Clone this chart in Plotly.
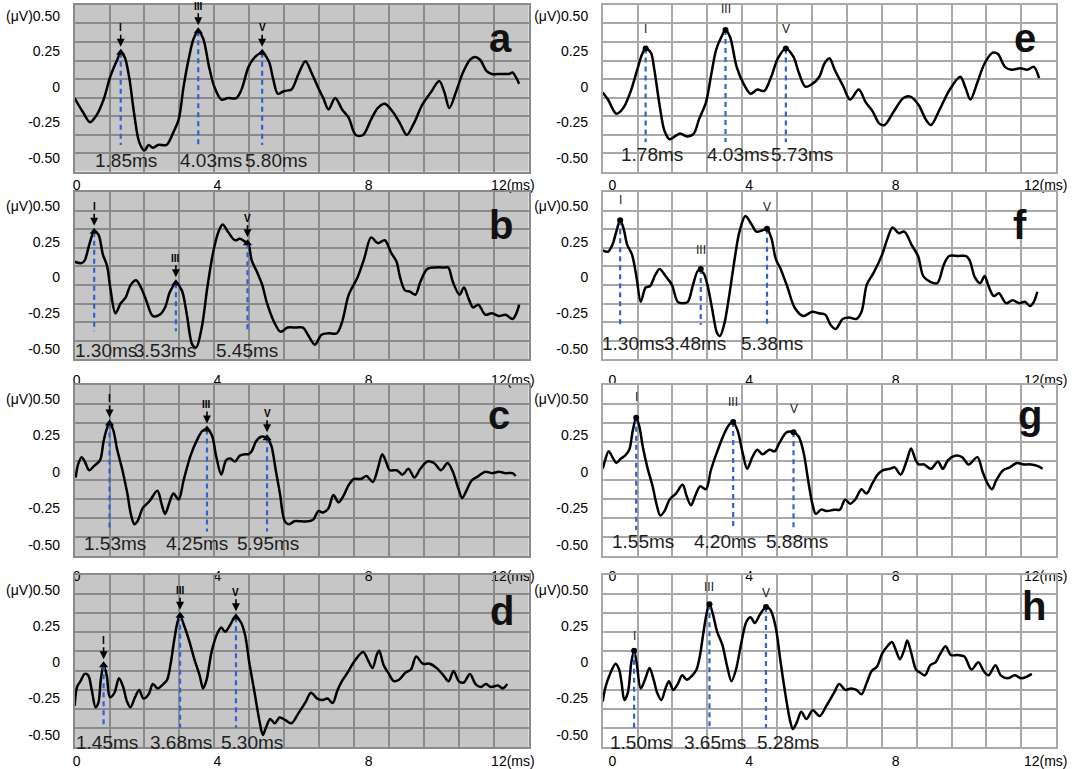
import plotly.graph_objects as go

# ---- waveform data (ms, uV) ----
# panel a
a_x = [0, 0.24, 0.44, 0.63, 0.83, 1.02, 1.22, 1.32, 1.43, 1.56, 1.71, 1.85, 2.0, 2.12, 2.24, 2.39, 2.63, 2.83, 2.98, 3.12,
       3.27, 3.41, 3.54, 3.68, 3.85, 4.0, 4.20, 4.39, 4.63, 4.78, 4.98, 5.17, 5.37, 5.56, 5.69, 5.82, 6.0, 6.21, 6.41, 6.61,
       6.78, 6.98, 7.12, 7.27, 7.46, 7.66, 7.85, 8.05, 8.26, 8.49, 8.68, 8.88, 9.12, 9.32, 9.51, 9.71, 9.95, 10.20, 10.44, 10.59,
       10.73, 10.93, 11.12, 11.32, 11.46, 11.61, 11.80, 11.95, 12.20, 12.44, 12.54, 12.65, 12.73]
a_y = [-0.08, -0.18, -0.25, -0.20, -0.09, 0.07, 0.19, 0.24, 0.21, 0.07, -0.20, -0.39, -0.45, -0.41, -0.43, -0.41, -0.41, -0.32, -0.23, 0.00,
       0.20, 0.34, 0.39, 0.34, 0.14, 0.0, -0.09, -0.08, -0.08, -0.02, 0.14, 0.21, 0.24, 0.18, 0.05, -0.05, -0.03, -0.02, 0.09, 0.18,
       0.10, -0.01, -0.08, -0.16, -0.08, -0.16, -0.22, -0.34, -0.34, -0.23, -0.15, -0.12, -0.18, -0.26, -0.34, -0.26, -0.13, -0.04, 0.04, -0.04,
       -0.15, -0.03, 0.10, 0.19, 0.21, 0.19, 0.11, 0.09, 0.09, 0.09, 0.10, 0.06, 0.02]
a_peak_x = [1.32, 3.54, 5.37]
a_peak_y = [0.24, 0.39, 0.24]
a_lat = ["1.85ms", "4.03ms", "5.80ms"]
a_lat_x = [1.46, 3.90, 5.76]

# panel e
e_x = [0, 0.15, 0.39, 0.59, 0.79, 0.99, 1.13, 1.23, 1.38, 1.48, 1.63, 1.77, 1.92, 2.07, 2.22, 2.41, 2.61, 2.76, 2.96, 3.10,
       3.25, 3.40, 3.52, 3.65, 3.84, 4.04, 4.24, 4.43, 4.63, 4.83, 5.02, 5.25, 5.47, 5.62, 5.81, 6.01, 6.21, 6.35, 6.50, 6.65,
       6.90, 7.09, 7.34, 7.54, 7.73, 7.93, 8.08, 8.33, 8.62, 8.82, 9.06, 9.26, 9.41, 9.66, 9.95, 10.25, 10.39, 10.54, 10.74, 10.94,
       11.18, 11.33, 11.53, 11.72, 11.97, 12.17, 12.36, 12.51]
e_y = [-0.04, -0.09, -0.19, -0.15, -0.04, 0.12, 0.23, 0.27, 0.24, 0.12, -0.13, -0.31, -0.37, -0.35, -0.33, -0.35, -0.33, -0.23, -0.11, 0.07,
       0.26, 0.35, 0.40, 0.35, 0.14, 0.02, -0.05, -0.02, -0.03, 0.07, 0.20, 0.27, 0.21, 0.10, 0.0, 0.02, 0.07, 0.16, 0.20, 0.12,
       0.0, -0.09, -0.02, -0.11, -0.17, -0.26, -0.27, -0.18, -0.08, -0.07, -0.13, -0.23, -0.27, -0.16, -0.02, 0.07, 0.0, -0.09, 0.03, 0.16,
       0.24, 0.23, 0.14, 0.12, 0.13, 0.12, 0.14, 0.06]
e_peak_x = [1.23, 3.52, 5.25]
e_peak_y = [0.27, 0.40, 0.27]
e_lab_y = [0.41, 0.55, 0.41]
e_lat = ["1.78ms", "4.03ms", "5.73ms"]
e_lat_x = [1.40, 3.89, 5.71]

# panel b
b_x = [0, 0.20, 0.29, 0.42, 0.56, 0.68, 0.81, 0.93, 1.02, 1.17, 1.32, 1.46, 1.61, 1.76, 1.90, 2.05, 2.24, 2.44, 2.59, 2.73,
       2.90, 3.07, 3.22, 3.37, 3.48, 3.64, 3.80, 3.97, 4.12, 4.24, 4.39, 4.59, 4.73, 4.88, 4.98, 5.07, 5.22, 5.37, 5.51, 5.71,
       5.90, 6.10, 6.34, 6.54, 6.68, 6.88, 7.07, 7.27, 7.51, 7.66, 7.85, 8.10, 8.29, 8.49, 8.68, 8.88, 9.07, 9.22, 9.32, 9.46,
       9.61, 9.76, 9.90, 10.10, 10.34, 10.59, 10.70, 10.83, 11.02, 11.15, 11.27, 11.41, 11.56, 11.76, 11.95, 12.15, 12.34, 12.54, 12.65, 12.73]
b_y = [0.11, 0.10, 0.12, 0.23, 0.32, 0.30, 0.16, 0.08, -0.07, -0.25, -0.18, -0.14, -0.05, -0.02, -0.07, -0.16, -0.27, -0.26, -0.21, -0.10,
       -0.04, -0.09, -0.27, -0.47, -0.49, -0.35, -0.07, 0.18, 0.32, 0.37, 0.32, 0.26, 0.27, 0.25, 0.23, 0.12, 0.04, -0.05, -0.18, -0.31,
       -0.38, -0.35, -0.35, -0.35, -0.40, -0.47, -0.40, -0.39, -0.39, -0.31, -0.12, 0.0, 0.13, 0.28, 0.24, 0.26, 0.17, 0.11, 0.0, -0.09,
       -0.10, -0.12, -0.03, 0.06, 0.07, 0.07, 0.07, -0.03, -0.12, -0.07, -0.14, -0.21, -0.19, -0.26, -0.25, -0.27, -0.26, -0.29, -0.25, -0.19]
b_peak_x = [0.56, 2.90, 4.95]
b_peak_y = [0.32, -0.04, 0.24]
b_lat = ["1.30ms", "3.53ms", "5.45ms"]
b_lat_x = [0.90, 2.59, 4.93]

# panel f
f_x = [0, 0.15, 0.28, 0.40, 0.50, 0.60, 0.70, 0.84, 0.97, 1.09, 1.23, 1.36, 1.49, 1.63, 1.80, 1.98, 2.15, 2.30, 2.44, 2.59,
       2.74, 2.89, 3.00, 3.13, 3.28, 3.36, 3.48, 3.63, 3.77, 3.92, 4.09, 4.27, 4.41, 4.58, 4.71, 4.84, 4.96, 5.10, 5.30, 5.50,
       5.75, 6.00, 6.19, 6.38, 6.53, 6.68, 6.88, 7.07, 7.27, 7.42, 7.57, 7.76, 8.01, 8.16, 8.31, 8.48, 8.65, 8.85, 9.04, 9.19,
       9.39, 9.59, 9.78, 9.93, 10.18, 10.42, 10.52, 10.67, 10.82, 10.95, 11.06, 11.21, 11.36, 11.56, 11.75, 11.95, 12.10, 12.25, 12.36, 12.46]
f_y = [0.19, 0.18, 0.23, 0.33, 0.40, 0.34, 0.23, 0.16, 0.0, -0.17, -0.07, -0.06, 0.01, 0.06, 0.01, -0.05, -0.17, -0.18, -0.17, -0.05,
       0.05, 0.03, -0.05, -0.21, -0.39, -0.41, -0.33, -0.12, 0.11, 0.32, 0.43, 0.37, 0.32, 0.33, 0.34, 0.27, 0.13, 0.06, -0.07, -0.21,
       -0.27, -0.24, -0.25, -0.26, -0.33, -0.36, -0.29, -0.28, -0.29, -0.24, -0.05, 0.03, 0.16, 0.27, 0.35, 0.31, 0.32, 0.23, 0.15, 0.01,
       -0.03, -0.04, 0.09, 0.15, 0.15, 0.15, 0.12, 0.0, -0.04, 0.01, -0.06, -0.13, -0.11, -0.18, -0.16, -0.18, -0.17, -0.20, -0.17, -0.10]
f_peak_x = [0.50, 2.81, 4.71]
f_peak_y = [0.40, 0.06, 0.34]
f_lab_y = [0.54, 0.19, 0.49]
f_lat = ["1.30ms", "3.48ms", "5.38ms"]
f_lat_x = [0.87, 2.64, 4.86]

# panel c
c_x = [0.03, 0.10, 0.20, 0.29, 0.42, 0.56, 0.73, 0.83, 0.93, 1.00, 1.10, 1.22, 1.37, 1.51, 1.61, 1.71, 1.80, 1.95, 2.15, 2.37,
       2.49, 2.59, 2.73, 2.83, 2.98, 3.12, 3.32, 3.51, 3.66, 3.79, 3.93, 4.05, 4.20, 4.34, 4.46, 4.59, 4.73, 4.88, 4.98, 5.07,
       5.20, 5.34, 5.51, 5.63, 5.76, 5.88, 6.02, 6.15, 6.29, 6.49, 6.68, 6.83, 6.98, 7.12, 7.27, 7.41, 7.56, 7.71, 7.85, 8.00,
       8.20, 8.36, 8.54, 8.68, 8.81, 8.93, 9.02, 9.22, 9.39, 9.56, 9.73, 9.90, 10.10, 10.29, 10.49, 10.68, 10.83, 10.98, 11.10, 11.22,
       11.37, 11.56, 11.76, 11.95, 12.15, 12.34, 12.54, 12.63]
c_y = [-0.04, 0.05, 0.10, 0.07, 0.01, 0.04, 0.08, 0.21, 0.30, 0.33, 0.29, 0.15, 0.01, -0.15, -0.29, -0.36, -0.34, -0.25, -0.20, -0.13,
       -0.22, -0.29, -0.20, -0.15, -0.19, -0.06, 0.11, 0.22, 0.28, 0.29, 0.25, 0.11, -0.02, 0.08, 0.09, 0.07, 0.11, 0.12, 0.12, 0.14,
       0.21, 0.24, 0.23, 0.18, 0.01, -0.15, -0.34, -0.36, -0.34, -0.34, -0.34, -0.33, -0.27, -0.28, -0.25, -0.16, -0.21, -0.16, -0.09, -0.05,
       -0.05, -0.03, -0.07, 0.02, 0.12, 0.06, 0.01, 0.01, -0.02, 0.02, -0.04, 0.02, 0.07, 0.06, 0.01, 0.06, 0.0, -0.11, -0.18, -0.13,
       -0.06, -0.03, 0.0, -0.01, 0.0, -0.01, -0.01, -0.03]
c_peak_x = [1.00, 3.79, 5.51]
c_peak_y = [0.33, 0.29, 0.23]
c_lat = ["1.53ms", "4.25ms", "5.95ms"]
c_lat_x = [1.17, 3.51, 5.53]

# panel g
g_x = [0, 0.07, 0.17, 0.30, 0.39, 0.52, 0.64, 0.76, 0.86, 0.96, 1.05, 1.15, 1.28, 1.43, 1.55, 1.65, 1.77, 1.92, 2.10, 2.29,
       2.41, 2.53, 2.66, 2.79, 2.96, 3.10, 3.30, 3.50, 3.65, 3.74, 3.87, 4.01, 4.14, 4.29, 4.43, 4.58, 4.78, 4.93, 5.07, 5.27,
       5.47, 5.62, 5.76, 5.89, 6.01, 6.11, 6.26, 6.43, 6.63, 6.80, 6.95, 7.09, 7.24, 7.42, 7.56, 7.73, 7.88, 8.03, 8.23, 8.37,
       8.54, 8.72, 8.84, 8.97, 9.06, 9.21, 9.41, 9.61, 9.75, 9.90, 10.10, 10.30, 10.49, 10.74, 10.89, 11.03, 11.16, 11.28, 11.48, 11.67,
       11.87, 12.07, 12.27, 12.46, 12.61]
g_y = [0.02, 0.08, 0.14, 0.09, 0.06, 0.09, 0.11, 0.15, 0.28, 0.37, 0.31, 0.17, 0.03, -0.10, -0.23, -0.30, -0.27, -0.19, -0.15, -0.09,
       -0.17, -0.23, -0.16, -0.10, -0.12, 0.01, 0.15, 0.27, 0.33, 0.34, 0.28, 0.13, 0.02, 0.10, 0.15, 0.12, 0.15, 0.14, 0.20, 0.27,
       0.27, 0.24, 0.13, -0.06, -0.22, -0.29, -0.26, -0.27, -0.26, -0.26, -0.19, -0.22, -0.19, -0.12, -0.15, -0.08, -0.02, 0.01, 0.02, 0.03,
       -0.02, 0.08, 0.16, 0.08, 0.05, 0.05, 0.02, 0.07, 0.02, 0.08, 0.11, 0.10, 0.05, 0.10, 0.0, -0.08, -0.12, -0.06, 0.01, 0.03,
       0.06, 0.05, 0.05, 0.04, 0.02]
g_peak_x = [0.96, 3.74, 5.47]
g_peak_y = [0.37, 0.34, 0.27]
g_lab_y = [0.51, 0.48, 0.43]
g_lat = ["1.55ms", "4.20ms", "5.88ms"]
g_lat_x = [1.15, 3.50, 5.57]

# panel d
d_x = [0, 0.07, 0.17, 0.29, 0.39, 0.49, 0.60, 0.68, 0.75, 0.83, 0.92, 1.01, 1.14, 1.27, 1.39, 1.50, 1.60, 1.73, 1.85, 1.97,
       2.12, 2.24, 2.38, 2.54, 2.65, 2.75, 2.85, 2.95, 3.02, 3.14, 3.29, 3.43, 3.58, 3.68, 3.78, 3.92, 4.07, 4.20, 4.31, 4.46,
       4.60, 4.75, 4.88, 5.00, 5.14, 5.29, 5.39, 5.48, 5.60, 5.73, 5.87, 6.05, 6.21, 6.41, 6.60, 6.77, 6.95, 7.09, 7.24, 7.39,
       7.53, 7.68, 7.82, 8.02, 8.26, 8.41, 8.53, 8.65, 8.72, 8.85, 9.00, 9.14, 9.29, 9.48, 9.63, 9.78, 9.97, 10.17, 10.37, 10.56,
       10.71, 10.85, 11.00, 11.14, 11.32, 11.48, 11.63, 11.78, 11.92, 12.12, 12.26, 12.39]
d_y = [-0.30, -0.17, -0.13, -0.08, -0.09, -0.19, -0.31, -0.28, -0.12, -0.02, -0.09, -0.24, -0.21, -0.11, -0.17, -0.27, -0.31, -0.24, -0.19, -0.25,
       -0.22, -0.15, -0.18, -0.15, -0.12, -0.01, 0.15, 0.28, 0.32, 0.25, 0.14, 0.02, -0.09, -0.18, -0.12, 0.07, 0.19, 0.24, 0.21, 0.26,
       0.31, 0.28, 0.19, 0.0, -0.19, -0.40, -0.50, -0.45, -0.39, -0.42, -0.38, -0.40, -0.42, -0.35, -0.28, -0.21, -0.25, -0.26, -0.25, -0.28,
       -0.19, -0.12, -0.07, 0.01, 0.07, 0.01, -0.04, 0.05, 0.08, -0.02, -0.08, -0.13, -0.12, -0.07, -0.05, 0.04, -0.01, -0.01, -0.04, -0.09,
       -0.13, -0.06, -0.13, -0.14, -0.08, -0.15, -0.17, -0.15, -0.17, -0.16, -0.18, -0.15]
d_peak_x = [0.83, 3.02, 4.62]
d_peak_y = [-0.02, 0.32, 0.31]
d_lat = ["1.45ms", "3.68ms", "5.30ms"]
d_lat_x = [0.92, 3.04, 5.09]

# panel h
h_x = [0, 0.08, 0.21, 0.37, 0.47, 0.54, 0.62, 0.72, 0.82, 0.90, 0.97, 1.09, 1.21, 1.34, 1.46, 1.56, 1.68, 1.80, 1.90, 2.02,
       2.15, 2.28, 2.41, 2.57, 2.69, 2.79, 2.89, 2.99, 3.06, 3.16, 3.28, 3.43, 3.56, 3.69, 3.82, 3.97, 4.12, 4.24, 4.36, 4.51,
       4.68, 4.81, 4.96, 5.10, 5.25, 5.37, 5.45, 5.57, 5.69, 5.84, 6.02, 6.22, 6.41, 6.63, 6.78, 6.95, 7.12, 7.27, 7.42, 7.57,
       7.71, 7.86, 8.01, 8.16, 8.29, 8.41, 8.52, 8.65, 8.73, 8.85, 8.98, 9.09, 9.24, 9.39, 9.54, 9.68, 9.83, 9.98, 10.18, 10.37,
       10.57, 10.77, 10.92, 11.06, 11.26, 11.41, 11.61, 11.81, 12.00, 12.15, 12.30]
h_y = [-0.27, -0.17, -0.08, -0.01, -0.05, -0.14, -0.26, -0.21, 0.0, 0.08, 0.0, -0.18, -0.12, -0.04, -0.12, -0.21, -0.26, -0.18, -0.13, -0.19,
       -0.15, -0.09, -0.12, -0.09, -0.05, 0.05, 0.21, 0.35, 0.40, 0.33, 0.21, 0.12, -0.02, -0.13, -0.05, 0.13, 0.28, 0.31, 0.27, 0.33,
       0.38, 0.36, 0.24, 0.0, -0.24, -0.40, -0.46, -0.41, -0.34, -0.39, -0.33, -0.37, -0.30, -0.21, -0.15, -0.19, -0.18, -0.19, -0.22, -0.14,
       -0.06, -0.03, 0.06, 0.11, 0.14, 0.08, 0.02, 0.09, 0.15, 0.06, -0.05, -0.07, -0.09, -0.02, 0.0, 0.06, 0.11, 0.05, 0.05, 0.04,
       -0.05, 0.0, -0.06, -0.09, -0.02, -0.09, -0.11, -0.09, -0.11, -0.10, -0.08]
h_peak_x = [0.90, 3.06, 4.68]
h_peak_y = [0.08, 0.40, 0.38]
h_lab_y = [0.18, 0.52, 0.48]
h_lat = ["1.50ms", "3.65ms", "5.28ms"]
h_lat_x = [1.11, 3.23, 5.30]

waves = ["I", "III", "V"]
x_tick_text = ["0", "4", "8", "12(ms)"]
y_tick_vals = [-0.5, -0.25, 0, 0.25, 0.5]
y_tick_text = ["-0.50", "-0.25", "0", "0.25", "(\u03bcV)0.50"]

# layout geometry per row / column
row_dom = [(0.7754, 0.9935), (0.5297, 0.7486), (0.2718, 0.4960), (0.0221, 0.2476)]
row_rng = [(-0.598, 0.576), (-0.572, 0.597), (-0.580, 0.594), (-0.584, 0.602)]
row_standoff = [0, 7, 6, 0]
col_dom = [(0.0678, 0.4917), (0.5609, 0.9843)]
col_xticks = [[0.06, 4.09, 8.42, 12.55], [0.28, 4.2, 8.4, 12.7]]

panels = [
    dict(letter="a", x=a_x, y=a_y, px=a_peak_x, py=a_peak_y, lat=a_lat, lat_x=a_lat_x, lat_y=-0.52, dash_end=-0.41, row=0, col=0, let_pos=(12.2, 0.345)),
    dict(letter="e", x=e_x, y=e_y, px=e_peak_x, py=e_peak_y, lab_y=e_lab_y, lat=e_lat, lat_x=e_lat_x, lat_y=-0.48, dash_end=-0.39, row=0, col=1, let_pos=(12.1, 0.345)),
    dict(letter="b", x=b_x, y=b_y, px=b_peak_x, py=b_peak_y, lat=b_lat, lat_x=b_lat_x, lat_y=-0.51, dash_end=-0.375, row=1, col=0, let_pos=(12.2, 0.37)),
    dict(letter="f", x=f_x, y=f_y, px=f_peak_x, py=f_peak_y, lab_y=f_lab_y, lat=f_lat, lat_x=f_lat_x, lat_y=-0.46, dash_end=-0.33, row=1, col=1, let_pos=(11.95, 0.37)),
    dict(letter="c", x=c_x, y=c_y, px=c_peak_x, py=c_peak_y, lat=c_lat, lat_x=c_lat_x, lat_y=-0.49, dash_end=-0.41, row=2, col=0, let_pos=(12.15, 0.39)),
    dict(letter="g", x=g_x, y=g_y, px=g_peak_x, py=g_peak_y, lab_y=g_lab_y, lat=g_lat, lat_x=g_lat_x, lat_y=-0.48, dash_end=-0.40, row=2, col=1, let_pos=(12.25, 0.39)),
    dict(letter="d", x=d_x, y=d_y, px=d_peak_x, py=d_peak_y, lat=d_lat, lat_x=d_lat_x, lat_y=-0.55, dash_end=-0.45, row=3, col=0, let_pos=(12.25, 0.356)),
    dict(letter="h", x=h_x, y=h_y, px=h_peak_x, py=h_peak_y, lab_y=h_lab_y, lat=h_lat, lat_x=h_lat_x, lat_y=-0.555, dash_end=-0.45, row=3, col=1, let_pos=(12.35, 0.387)),
]

FONT = "Liberation Sans, Arial, sans-serif"
fig = go.Figure()
annotations = []
shapes = []
layout_axes = {}

for i, p in enumerate(panels, start=1):
    sfx = "" if i == 1 else str(i)
    xa, ya = "x" + sfx, "y" + sfx
    left = p["col"] == 0
    grid_col = "#8a8a8a" if left else "#a8a8a8"
    lo, hi = row_rng[p["row"]]

    layout_axes["xaxis" + sfx] = dict(
        domain=col_dom[p["col"]], range=[0, 13], anchor=ya,
        tickmode="array", tickvals=col_xticks[p["col"]], ticktext=x_tick_text,
        showgrid=False, zeroline=False, ticks="", ticklabelstandoff=row_standoff[p["row"]],
        showline=True, mirror=True, linecolor=grid_col, linewidth=1.5,
        minor=dict(tickmode="array", tickvals=list(range(14)), showgrid=True, gridcolor=grid_col, gridwidth=1.5, ticks=""),
        tickfont=dict(family=FONT, size=14, color="#000000"),
    )
    layout_axes["yaxis" + sfx] = dict(
        domain=row_dom[p["row"]], range=[lo, hi], anchor=xa,
        tickmode="array", tickvals=y_tick_vals, ticktext=y_tick_text,
        showgrid=False, zeroline=False, ticks="", ticklabelstandoff=10,
        showline=True, mirror=True, linecolor=grid_col, linewidth=1.5,
        minor=dict(tickmode="array", tickvals=[lo + k * (hi - lo) / 9 for k in range(10)],
                   showgrid=True, gridcolor=grid_col, gridwidth=1.5, ticks=""),
        tickfont=dict(family=FONT, size=14, color="#000000"),
    )

    if left:
        shapes.append(dict(type="rect", xref=xa + " domain", yref=ya + " domain", x0=0, x1=1, y0=0, y1=1,
                           fillcolor="#c6c6c6", line=dict(width=0), layer="below"))

    # waveform
    fig.add_trace(go.Scatter(x=p["x"], y=p["y"], mode="lines", xaxis=xa, yaxis=ya,
                             line=dict(color="black", width=2.5, shape="spline", smoothing=0.9),
                             hoverinfo="skip", showlegend=False))
    # blue dashed latency markers
    for k in range(3):
        fig.add_trace(go.Scatter(x=[p["px"][k], p["px"][k]], y=[p["py"][k], p["dash_end"]], mode="lines",
                                 xaxis=xa, yaxis=ya, line=dict(color="#2f62d4", width=2.2, dash="5px,4px"),
                                 hoverinfo="skip", showlegend=False))
    # peak markers
    fig.add_trace(go.Scatter(x=p["px"], y=p["py"], mode="markers", xaxis=xa, yaxis=ya,
                             marker=dict(symbol="triangle-up" if left else "circle", size=8 if left else 6, color="black"),
                             hoverinfo="skip", showlegend=False))

    for k in range(3):
        if left:
            annotations.append(dict(x=p["px"][k], y=p["py"][k], xref=xa, yref=ya, text="<b>%s</b>" % waves[k],
                                    showarrow=True, ax=0, ay=-25, arrowhead=2, arrowsize=1, arrowwidth=1.6,
                                    arrowcolor="black", standoff=6,
                                    font=dict(family=FONT, size=10, color="black")))
        else:
            annotations.append(dict(x=p["px"][k], y=p["lab_y"][k], xref=xa, yref=ya, text=waves[k],
                                    showarrow=False, font=dict(family=FONT, size=12, color="#1a1a1a")))
        annotations.append(dict(x=p["lat_x"][k], y=p["lat_y"], xref=xa, yref=ya, text=p["lat"][k],
                                showarrow=False, font=dict(family=FONT, size=19, color="#1e1e1e")))

    annotations.append(dict(x=p["let_pos"][0], y=p["let_pos"][1], xref=xa, yref=ya, text="<b>%s</b>" % p["letter"],
                            showarrow=False, font=dict(family=FONT, size=40, color="#111111")))

fig.update_layout(
    width=1084, height=769,
    margin=dict(l=0, r=0, t=0, b=0),
    paper_bgcolor="white", plot_bgcolor="white",
    showlegend=False,
    annotations=annotations, shapes=shapes,
    **layout_axes,
)

# the page body has a default margin; drop it so the figure fills the window exactly
fig.write_html("out.html", config={"displayModeBar": False},
               post_script="document.body.style.margin='0px';")
